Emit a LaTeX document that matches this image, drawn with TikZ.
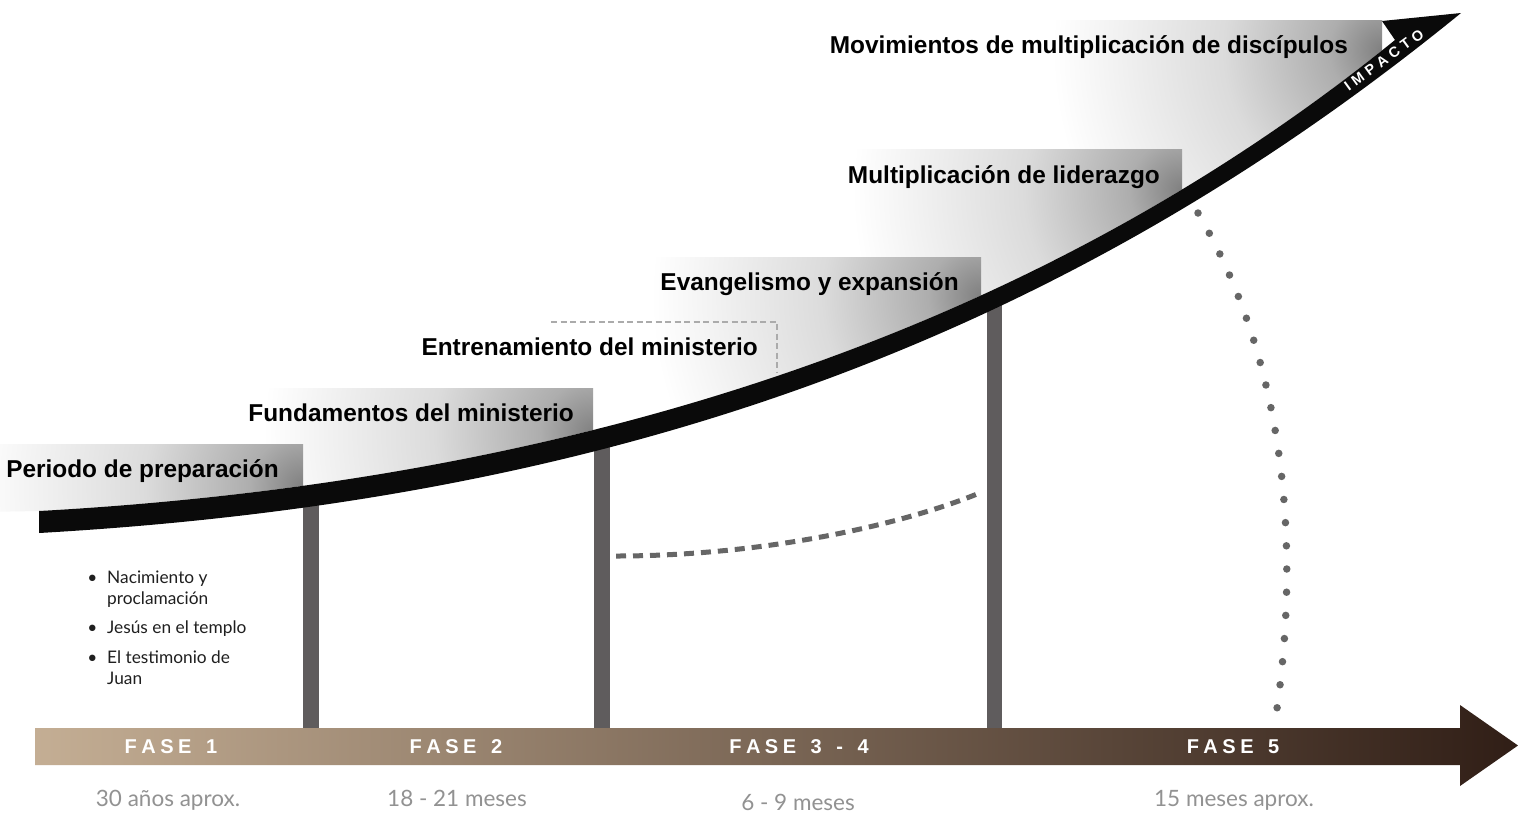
\documentclass[tikz,border=0pt]{standalone}
\usepackage{fontspec}
\setmainfont{Liberation Sans}
\newfontfamily\lightfont{Lato}

\definecolor{bandblack}{HTML}{0A0A0A}
\definecolor{bargray}{HTML}{5F5C5D}
\definecolor{dotgray}{HTML}{666666}
\definecolor{dashlight}{HTML}{ABABAB}
\definecolor{timegray}{HTML}{929292}
\definecolor{barL}{RGB}{196,174,148}
\definecolor{barM}{RGB}{120,97,82}
\definecolor{barR}{RGB}{48,30,22}
\definecolor{sh0}{gray}{0.50}
\definecolor{sh1}{gray}{0.68}
\definecolor{sh2}{gray}{0.86}

\pgfdeclareradialshading{stepshade}{\pgfpoint{0bp}{0bp}}{color(0bp)=(sh0); color(4bp)=(sh1); color(12bp)=(sh2); color(25bp)=(white); color(50bp)=(white)}

\newcommand{\trk}{\kern4.5pt}
\newcommand{\trkb}{\kern4.5pt}

\tikzset{
  steplabel/.style={anchor=base east, inner sep=0pt, text=black, font=\fontsize{24.4}{29}\selectfont\bfseries},
  phaselabel/.style={anchor=center, inner sep=0pt, text=white, font=\fontsize{20}{24}\selectfont\bfseries},
  timelabel/.style={anchor=base, inner sep=0pt, text=timegray, font=\lightfont\fontsize{22.5}{26}\selectfont},
  bulletline/.style={anchor=base west, inner sep=0pt, text=black!88, font=\lightfont\fontsize{17.3}{21}\selectfont},
  bulletmark/.style={anchor=base, inner sep=0pt, text=black!88, font=\lightfont\fontsize{17.3}{21}\selectfont},
  vbar/.style={fill=bargray},
  stepbox/.style={shading=stepshade},
  dashcurve/.style={draw=dotgray, line width=5pt, dash pattern=on 10pt off 7pt},
  dotcurve/.style={draw=dotgray, line width=7.5pt, line cap=round, dash pattern=on 0pt off 23.2pt},
  dashframe/.style={draw=dashlight, line width=2.2pt, dash pattern=on 6pt off 3.5pt},
}

\begin{document}
\begin{tikzpicture}[x=1pt,y=-1pt]
\useasboundingbox (0,0) rectangle (1518,812);
\fill[white] (0,0) rectangle (1518,812);

% ---- shaded steps above the curve ----
\begin{scope}
  \clip (-20,512) -- (39,511) .. controls (600,480) and (1050,320) .. (1395,40) -- (1395,-20) -- (-20,-20) -- cycle;
  \begin{scope}
    \clip (1052,20) rectangle (1382,700);
    \shade[stepbox] (1382,50) circle[radius=330pt];
  \end{scope}
  \begin{scope}
    \clip (852,149) rectangle (1182,700);
    \shade[stepbox] (1182,190) circle[radius=330pt];
  \end{scope}
  \begin{scope}
    \clip (651,257) rectangle (981,700);
    \shade[stepbox] (981,296) circle[radius=330pt];
  \end{scope}
  \begin{scope}
    \clip (263,388) rectangle (593,700);
    \shade[stepbox] (593,433) circle[radius=330pt];
  \end{scope}
  \begin{scope}
    \clip (-20,444) rectangle (303,700);
    \shade[stepbox] (303,487) circle[radius=330pt];
  \end{scope}
\end{scope}

% ---- vertical bars ----
\fill[vbar] (303,495) rectangle (319,728);
\fill[vbar] (594,440) rectangle (610,728);
\fill[vbar] (987,300) rectangle (1002,728);

% ---- main black curve with arrowhead ----
\fill[bandblack] (39,511) .. controls (600,480) and (1050,320) .. (1395,40)
  -- (1382,21) -- (1461,13)
  .. controls (1050,348) and (600,501) .. (39,533) -- cycle;

\node[rotate=36, inner sep=0pt, text=white, font=\fontsize{14.5}{16}\selectfont\bfseries] (imp) at (1384,60) {I\trkb M\trkb P\trkb A\trkb C\trkb T\trkb O};

% ---- dashed frame of the training step ----
\coordinate (fa) at (551,322);
\coordinate (fb) at (777,322);
\coordinate (fc) at (777,373);
\draw[dashframe] (fa) -- (fb) -- (fc);

% ---- dashed and dotted curves ----
\coordinate (da) at (616,556);
\coordinate (db) at (982,492);
\draw[dashcurve] (da) .. controls (760,556) and (900,526) .. (db);
\coordinate (oa) at (1198,213);
\coordinate (ob) at (1275,722);
\draw[dotcurve] (oa) .. controls (1290,370) and (1300,560) .. (ob);

% ---- step labels ----
\node[steplabel] (s1) at (279,477) {Periodo de preparación};
\node[steplabel] (s2) at (574,421) {Fundamentos del ministerio};
\node[steplabel] (s3) at (758,355) {Entrenamiento del ministerio};
\node[steplabel] (s4) at (959,290) {Evangelismo y expansión};
\node[steplabel] (s5) at (1160,183) {Multiplicación de liderazgo};
\node[steplabel] (s6) at (1348,53) {Movimientos de multiplicación de discípulos};

% ---- bullet list ----
\node[bulletmark] (b1) at (92.5,583) {•};
\node[bulletline] (l1) at (107,583) {Nacimiento y};
\node[bulletline] (l2) at (107,604) {proclamación};
\node[bulletmark] (b2) at (92.5,633) {•};
\node[bulletline] (l3) at (107,633) {Jesús en el templo};
\node[bulletmark] (b3) at (92.5,663) {•};
\node[bulletline] (l4) at (107,663) {El testimonio de};
\node[bulletline] (l5) at (107,684) {Juan};

% ---- bottom timeline arrow ----
\shade[left color=barL, middle color=barM, right color=barR] (35,728) -- (1460,728) -- (1460,705) -- (1518,745.5) -- (1460,786) -- (1460,765) -- (35,765) -- cycle;

\node[phaselabel] (f1) at (171,746.5) {F\trk A\trk S\trk E\trk\ \trk 1};
\node[phaselabel] (f2) at (456,746.5) {F\trk A\trk S\trk E\trk\ \trk 2};
\node[phaselabel] (f3) at (799,746.5) {F\trk A\trk S\trk E\trk\ \trk 3\trk\ \trk -\trk\ \trk 4};
\node[phaselabel] (f5) at (1233,746.5) {F\trk A\trk S\trk E\trk\ \trk 5};

\node[timelabel] (t1) at (168,806) {30 años aprox.};
\node[timelabel] (t2) at (457,806) {18 - 21 meses};
\node[timelabel] (t3) at (798,810) {6 - 9 meses};
\node[timelabel] (t4) at (1234,806) {15 meses aprox.};
\end{tikzpicture}
\end{document}
